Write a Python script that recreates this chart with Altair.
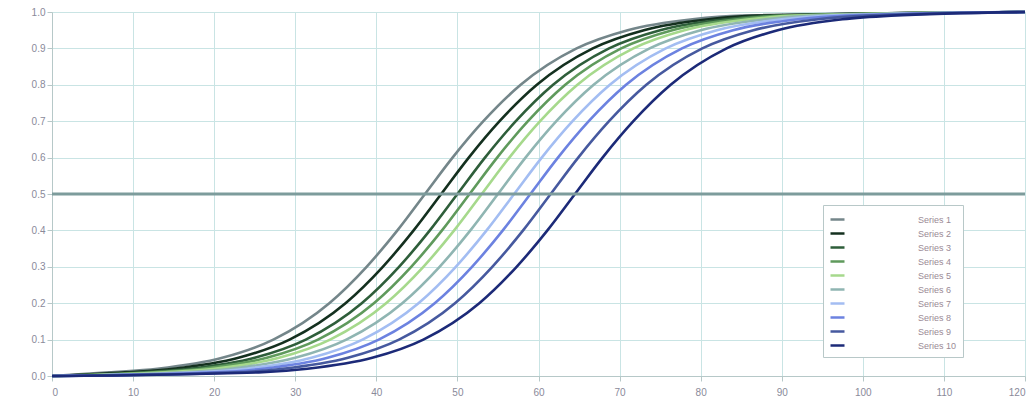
import altair as alt
import pandas as pd

# Response levels shared by every curve
levels = [0.01, 0.02, 0.05, 0.1, 0.2, 0.3, 0.4, 0.5, 0.6, 0.7, 0.8, 0.9, 0.95, 0.98, 0.99]

# Series names, line colours and the x position where each curve crosses each level
series = ["Series 1", "Series 2", "Series 3", "Series 4", "Series 5",
          "Series 6", "Series 7", "Series 8", "Series 9", "Series 10"]
colors = ["#74868a", "#14301f", "#2e5e3a", "#5f9a5c", "#a6d98c",
          "#8fb5b2", "#a3bdf2", "#6c82e0", "#46599f", "#1c2a78"]

x_s1 = [7, 13, 21, 27.3, 34.2, 38.8, 42.6, 46, 49.4, 53.2, 57.8, 64.7, 71, 79, 85]
x_s2 = [9, 15, 23, 29.3, 36.2, 40.8, 44.6, 48, 51.4, 55.2, 59.8, 66.7, 73, 81, 87]
x_s3 = [11, 17, 25, 31.3, 38.2, 42.8, 46.6, 50, 53.4, 57.2, 61.8, 68.7, 75, 83, 89]
x_s4 = [12.5, 18.5, 26.5, 32.8, 39.7, 44.3, 48.1, 51.5, 54.9, 58.7, 63.3, 70.2, 76.5, 84.5, 90.5]
x_s5 = [14, 20, 28, 34.3, 41.2, 45.8, 49.6, 53, 56.4, 60.2, 64.8, 71.7, 78, 86, 92]
x_s6 = [16, 22, 30, 36.3, 43.2, 47.8, 51.6, 55, 58.4, 62.2, 66.8, 73.7, 80, 88, 94]
x_s7 = [18, 24, 32, 38.3, 45.2, 49.8, 53.6, 57, 60.4, 64.2, 68.8, 75.7, 82, 90, 96]
x_s8 = [20, 26, 34, 40.3, 47.2, 51.8, 55.6, 59, 62.4, 66.2, 70.8, 77.7, 84, 92, 98]
x_s9 = [22.5, 28.5, 36.5, 42.8, 49.7, 54.3, 58.1, 61.5, 64.9, 68.7, 73.3, 80.2, 86.5, 94.5, 100.5]
x_s10 = [25.5, 31.5, 39.5, 45.8, 52.7, 57.3, 61.1, 64.5, 67.9, 71.7, 76.3, 83.2, 89.5, 97.5, 103.5]

crossings = [x_s1, x_s2, x_s3, x_s4, x_s5, x_s6, x_s7, x_s8, x_s9, x_s10]

x_min, x_max = 0, 120
x_ticks = list(range(0, 121, 10))
y_ticks = [round(i * 0.1, 1) for i in range(11)]

rows = []
for order, (name, xs) in enumerate(zip(series, crossings)):
    rows.append({"series": name, "x": x_min, "y": 0.0, "order": order})
    for xv, yv in zip(xs, levels):
        rows.append({"series": name, "x": xv, "y": yv, "order": order})
    rows.append({"series": name, "x": x_max, "y": 1.0, "order": order})
df = pd.DataFrame(rows)

x_scale = alt.Scale(domain=[x_min, x_max], nice=False, zero=False)
y_scale = alt.Scale(domain=[0, 1], nice=False)

y_axis = alt.Axis(values=y_ticks, format=".1f", title=None, grid=True,
                  gridColor="#c9e4e4", labelColor="#8a8a9a", labelFontSize=10,
                  domainColor="#b6c8c8", tickColor="#b6c8c8", labelOverlap=False)

curves = alt.Chart(df).mark_line(interpolate="monotone", strokeWidth=2.6).encode(
    x=alt.X("x:Q", scale=x_scale,
            axis=alt.Axis(values=x_ticks, title=None, grid=True, gridColor="#c9e4e4",
                          labelColor="#8a8a9a", labelFontSize=10, domainColor="#b6c8c8",
                          tickColor="#b6c8c8", labelPadding=6)),
    y=alt.Y("y:Q", scale=y_scale, axis=y_axis),
    color=alt.Color("series:N", scale=alt.Scale(domain=series, range=colors),
                    legend=alt.Legend(title=None, orient="none", legendX=771, legendY=193,
                                      fillColor="#ffffff", strokeColor="#b8c8c8",
                                      padding=6, symbolType="stroke", symbolSize=196,
                                      symbolStrokeWidth=2.5, labelFontSize=9,
                                      labelOffset=72, labelColor="#9a8a95",
                                      rowPadding=0)),
    detail="series:N",
    order=alt.Order("order:Q"),
)

# Reference line at the 0.5 level
half = alt.Chart(pd.DataFrame({"y": [0.5]})).mark_rule(
    color="#7d9c9c", strokeWidth=3
).encode(y=alt.Y("y:Q", scale=y_scale, axis=y_axis))

chart = alt.layer(curves, half).properties(
    width=973, height=364,
    autosize=alt.AutoSizeParams(type="none"),
    padding={"left": 52, "top": 12, "right": 7, "bottom": 33},
).configure_view(fill="#e0fbfb", stroke=None).configure(background="#ffffff")

chart.save("out.html", embed_options={"renderer": "svg", "actions": False})
